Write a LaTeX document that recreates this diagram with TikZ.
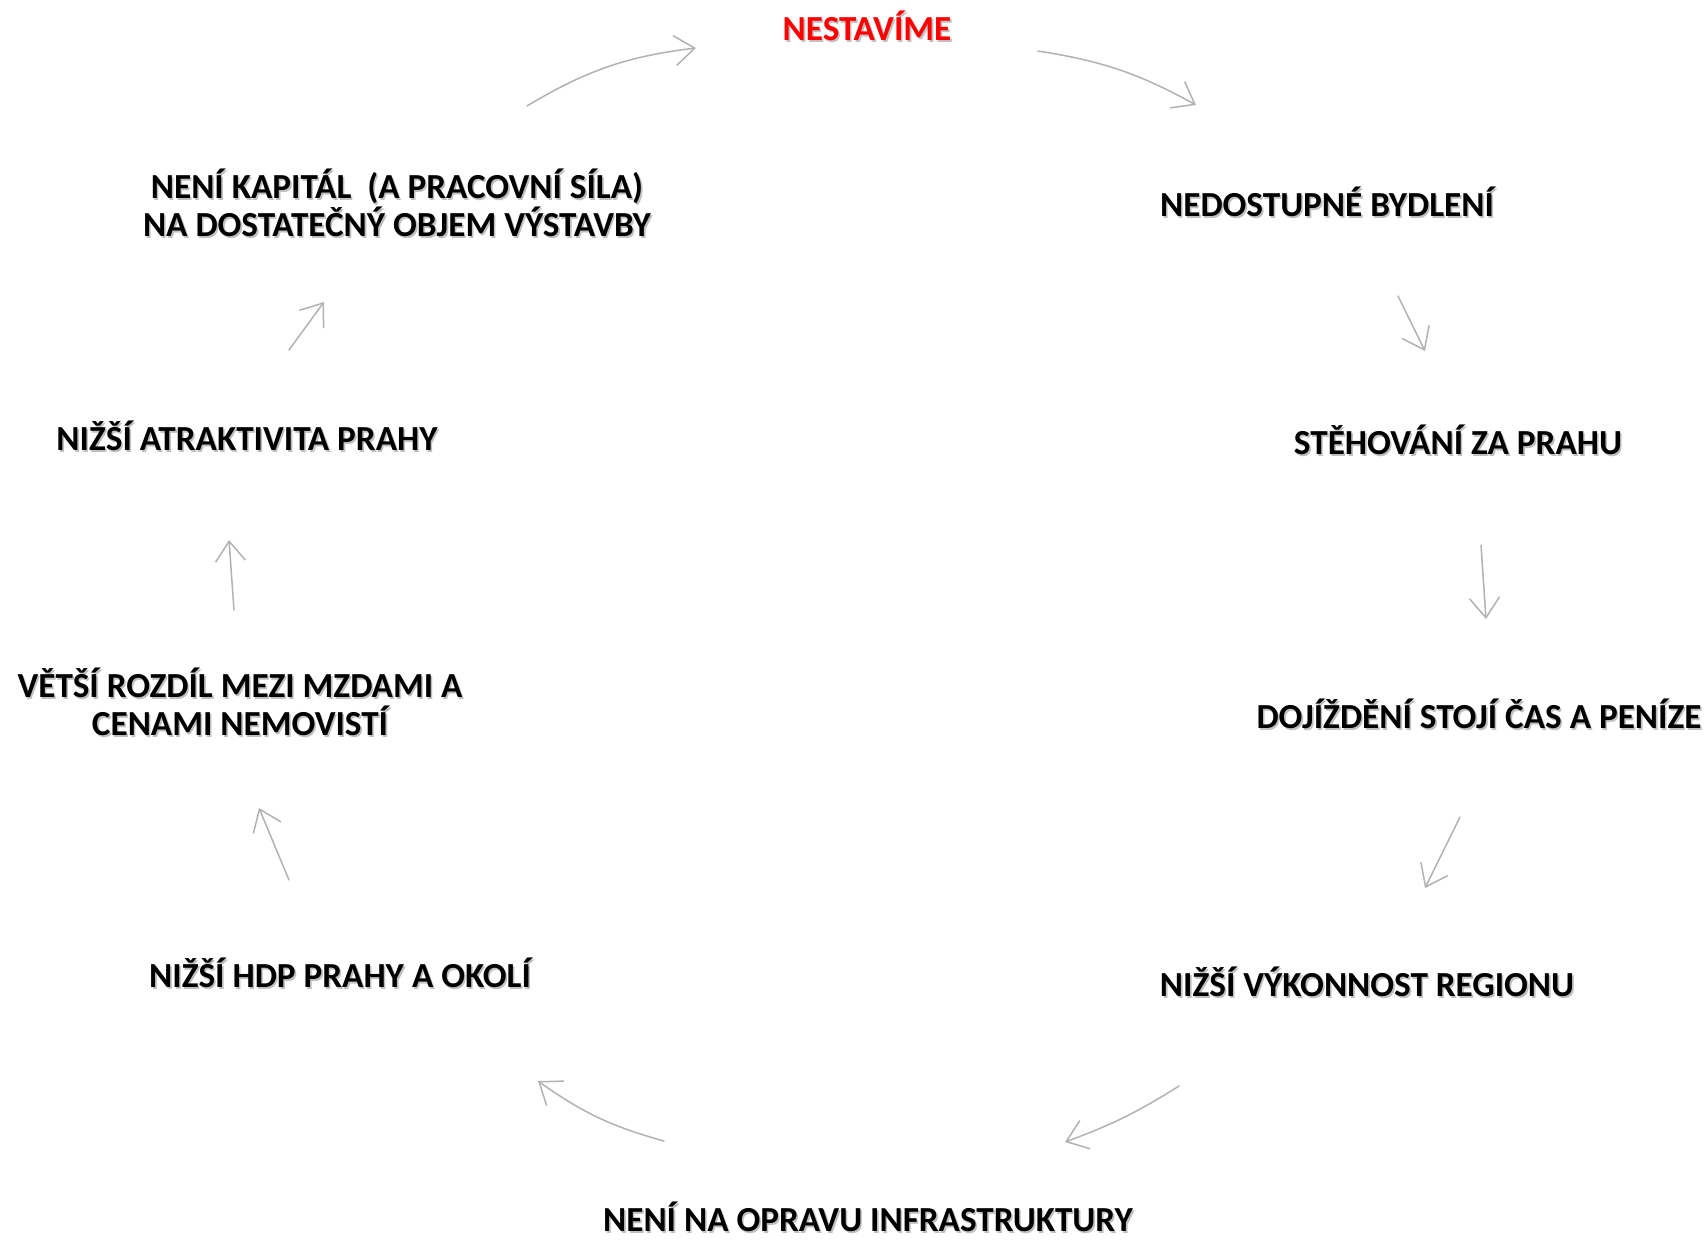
\documentclass[tikz,border=0pt]{standalone}
\usepackage{fontspec}
\setmainfont{Carlito}
\usetikzlibrary{arrows.meta}
\begin{document}
\begin{tikzpicture}[x=1pt,y=-1pt,
  lbl/.style={font=\fontsize{35.2}{38}\selectfont\bfseries, align=center, inner sep=0pt, anchor=base},
  shade/.style={lbl, text=black!45, opacity=0.55},
  cyc/.style={draw=gray!60, line width=1.5pt, line cap=round,
    -{Straight Barb[length=20pt,width=30pt,line width=1.5pt]}}]
\useasboundingbox[fill=white] (0,0) rectangle (1708,1240);
\newcommand\cyclabel[4]{%
  \node[shade, xshift=1.6pt, yshift=-2pt] at (#2) {#4};
  \node[lbl, text=#3] (#1) at (#2) {#4};}
% labels (position = baseline of the last line)
\cyclabel{nest}{867,40}{red}{NESTAVÍME}
\cyclabel{nedo}{1327,216}{black}{NEDOSTUPNÉ BYDLENÍ}
\cyclabel{steh}{1458,454}{black}{STĚHOVÁNÍ ZA PRAHU}
\cyclabel{doji}{1479,728}{black}{DOJÍŽDĚNÍ STOJÍ ČAS A PENÍZE}
\cyclabel{vyko}{1367,996}{black}{NIŽŠÍ VÝKONNOST REGIONU}
\cyclabel{infr}{868,1231}{black}{NENÍ NA OPRAVU INFRASTRUKTURY}
\cyclabel{hdp}{340,987}{black}{NIŽŠÍ HDP PRAHY A OKOLÍ}
\cyclabel{rozd}{240,735}{black}{VĚTŠÍ ROZDÍL MEZI MZDAMI A\\CENAMI NEMOVISTÍ}
\cyclabel{atra}{247,450}{black}{NIŽŠÍ ATRAKTIVITA PRAHY}
\cyclabel{kapi}{397,236}{black}{NENÍ KAPITÁL\ \ (A PRACOVNÍ SÍLA)\\NA DOSTATEČNÝ OBJEM VÝSTAVBY}
% arrow end points
\coordinate (a1s) at (527,106);  \coordinate (a1e) at (696,48);
\coordinate (a2s) at (1038,51);  \coordinate (a2e) at (1196,105);
\coordinate (a3s) at (1398,296); \coordinate (a3e) at (1425,351);
\coordinate (a4s) at (1481,545); \coordinate (a4e) at (1486,619);
\coordinate (a5s) at (1460,817); \coordinate (a5e) at (1425,888);
\coordinate (a6s) at (1179,1086);\coordinate (a6e) at (1065,1142);
\coordinate (a7s) at (664,1141); \coordinate (a7e) at (538,1081);
\coordinate (a8s) at (289,880);  \coordinate (a8e) at (259,808);
\coordinate (a9s) at (234,610);  \coordinate (a9e) at (229,540);
\coordinate (a10s) at (289,350); \coordinate (a10e) at (324,302);
% arrows
\draw[cyc] (a1s) to[bend left=12] (a1e);
\draw[cyc] (a2s) to[bend left=10] (a2e);
\draw[cyc] (a3s) -- (a3e);
\draw[cyc] (a4s) -- (a4e);
\draw[cyc] (a5s) -- (a5e);
\draw[cyc] (a6s) to[bend left=6] (a6e);
\draw[cyc] (a7s) to[bend left=10] (a7e);
\draw[cyc] (a8s) -- (a8e);
\draw[cyc] (a9s) -- (a9e);
\draw[cyc] (a10s) -- (a10e);
\end{tikzpicture}
\end{document}
